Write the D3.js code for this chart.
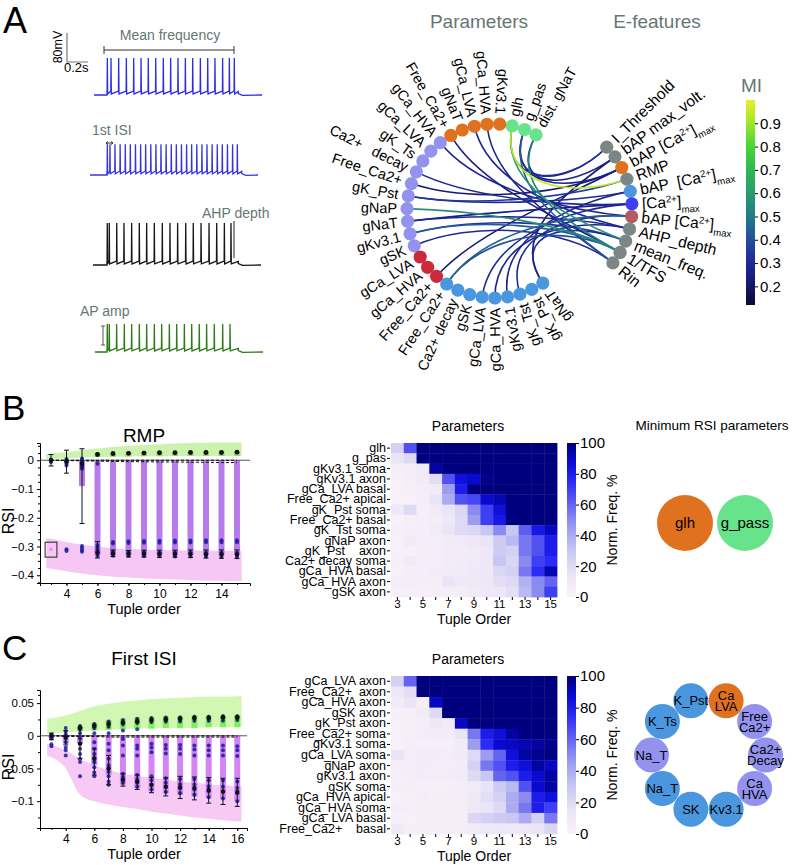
<!DOCTYPE html>
<meta charset="utf-8">
<script src="https://cdn.jsdelivr.net/npm/d3@7"></script>
<style>
  body { margin: 0; background: #fff; }
  text { font-family: "Liberation Sans", Arial, Helvetica, sans-serif; }
</style>
<div id="fig"></div>
<script>

// ---------------- data ----------------

// panel A : spike times (ms) of the four example voltage traces
var spikesMeanFreq = [127,162,235,308,378,448,517,588,660,730,800,870,940,1013,1083,1152,1225,1289,1336]
var spikesFirstISI = [165,190,238,287,336,384,433,482,530,579,628,676,725,774,822,871,920,968,1017,1066,1114,1163,1212,1260,1309,1358,1403]
var spikesAHP = [136,155,226,295,368,441,511,584,660,733,806,883,955,1029,1105,1178,1251,1314]
var spikesAPamp = [117,136,206,279,349,422,492,565,635,708,778,851,921,993,1063,1136,1216,1286]
var stimOn = [124, 162, 133, 114]
var stimOff = [1374, 1445, 1384, 1365]
var spikePeak = [22, 5, 36, -3]

// panel A : parameters (counter-clockwise from the top right) and e-features
var paramNames = ["dist. gNaT","g_pas","glh",
  "gKv3.1","gCa_HVA","gCa_LVA","gNaT","Free_Ca2+",
  "gCa_HVA","gCa_LVA","gK_Ts","Ca2+   decay","Free_Ca2+","gK_Pst","gNaP","gNaT","gKv3.1","gSK",
  "gCa_LVA","gCa_HVA","Free_Ca2+",
  "Free_Ca2+","Ca2+ decay","gSK","gCa_LVA","gCa_HVA","gKv3.1","gK_Tst","gK_Pst","gNaT"]
var paramGroup = ["global","global","global",
  "basal","basal","basal","basal","basal",
  "soma","soma","soma","soma","soma","soma","soma","soma","soma","soma",
  "apical","apical","apical",
  "axon","axon","axon","axon","axon","axon","axon","axon","axon"]
var featNames = ["I_Threshold","bAP max_volt.","bAP [Ca^{2+}]_{max}","RMP","bAP  [Ca^{2+}]_{max}",
  "[Ca^{2+}]_{max}","bAP [Ca^{2+}]_{max}","AHP_depth","mean_freq.","1/TFS","Rin"]
var featGroup = ["feat","feat","basal","feat","axon","ca","dend","feat","feat","feat","feat"]
// [parameter index, e-feature index, mutual information]
var miLinks = [
  [2,3,0.95],[2,8,0.58],[2,0,0.32],[1,0,0.3],[1,10,0.42],[1,2,0.28],[0,1,0.26],[0,9,0.52],
  [5,7,0.3],[7,9,0.24],[8,6,0.28],[11,5,0.3],[12,2,0.22],[13,4,0.3],[14,9,0.56],[15,5,0.25],
  [15,7,0.3],[16,8,0.33],[16,9,0.43],[17,10,0.3],[20,2,0.22],[21,6,0.44],[21,9,0.4],[24,5,0.3],
  [25,7,0.28],[26,4,0.26],[27,6,0.3],[29,1,0.22],[29,8,0.3],[13,3,0.34],[4,10,0.28]]
var miTicks = [0.2,0.3,0.4,0.5,0.6,0.7,0.8,0.9]

// panel B : RSI of RMP vs tuple order
var rmpOrders = [3,4,5,6,7,8,9,10,11,12,13,14,15]
var rmpGreenTop = [0.022,0.029,0.035,0.041,0.046,0.05,0.053,0.056,0.058,0.06,0.061,0.062,0.062]
var rmpGreenBot = [0.004,0.007,0.009,0.011,0.012,0.013,0.014,0.014,0.015,0.015,0.015,0.015,0.015]
var rmpPinkTop = [-0.27,-0.284,-0.294,-0.301,-0.306,-0.309,-0.311,-0.312,-0.313,-0.314,-0.314,-0.315,-0.315]
var rmpPinkBot = [-0.375,-0.386,-0.394,-0.4,-0.405,-0.408,-0.411,-0.413,-0.415,-0.417,-0.418,-0.419,-0.42]
var rmpBarLow = [null,null,-0.09,-0.33,-0.33,-0.33,-0.33,-0.33,-0.33,-0.33,-0.33,-0.33,-0.33]
var rmpGreenBarHigh = [null,null,null,0.024,0.026,0.028,0.029,0.03,0.03,0.03,0.03,0.031,0.031]
var rmpPoints = [
  [0.003,0,-0.003,-0.006],
  [0.004,0,-0.004,-0.008,-0.012,-0.018,-0.31,-0.316],
  [0.006,0.002,-0.002,-0.006,-0.01,-0.014,-0.018,-0.022,-0.026,-0.03,-0.298,-0.305,-0.312,-0.318],
  [0.022,-0.012,-0.295,-0.302,-0.31,-0.318,-0.326,-0.333],
  [0.025,-0.284,-0.29,-0.318,-0.325,-0.332],
  [0.025,-0.282,-0.288,-0.319,-0.326,-0.333],
  [0.026,-0.281,-0.287,-0.319,-0.326,-0.334],
  [0.026,-0.28,-0.287,-0.32,-0.327,-0.334],
  [0.026,-0.279,-0.286,-0.32,-0.327,-0.335],
  [0.027,-0.279,-0.286,-0.32,-0.328,-0.335],
  [0.027,-0.278,-0.285,-0.321,-0.328,-0.336],
  [0.027,-0.278,-0.285,-0.321,-0.329,-0.336],
  [0.028,-0.278,-0.285,-0.322,-0.329,-0.337]]
var rmpErrLo = [-0.02,-0.045,-0.22,-0.34,-0.335,-0.336,-0.336,-0.338,-0.337,-0.338,-0.34,-0.341,-0.342]
var rmpErrHi = [0.02,0.035,0.04,-0.283,-0.312,-0.314,-0.313,-0.313,-0.313,-0.312,-0.312,-0.312,-0.312]
var rmpMean = [0,-0.004,-0.012,-0.32,-0.324,-0.325,-0.325,-0.326,-0.326,-0.326,-0.327,-0.327,-0.328]
var rmpHiMean = [null,null,null,0.02,0.023,0.024,0.025,0.026,0.026,0.027,0.027,0.027,0.028]
var rmpDashA = [0,0,0,0,0,0,0,0,0,0,0,0,0]
var rmpDashB = [0,-0.001,-0.002,-0.003,-0.004,-0.005,-0.005,-0.006,-0.006,-0.007,-0.007,-0.008,-0.008]
var rmpBox = [3, -0.337, -0.285]      // order, low, high of the highlighted point
var rmpOutlier = [3, -0.31]

// panel C : RSI of first ISI vs tuple order
var isiOrders = [3,4,5,6,7,8,9,10,11,12,13,14,15,16]
var isiGreenTop = [0.026,0.031,0.038,0.045,0.049,0.052,0.054,0.056,0.057,0.058,0.059,0.06,0.06,0.061]
var isiGreenBot = [0.003,0.005,0.007,0.008,0.009,0.01,0.011,0.011,0.012,0.012,0.012,0.013,0.013,0.013]
var isiPinkTop = [-0.012,-0.022,-0.035,-0.045,-0.052,-0.058,-0.061,-0.064,-0.067,-0.07,-0.072,-0.074,-0.076,-0.077]
var isiPinkBot = [-0.03,-0.05,-0.09,-0.1,-0.105,-0.109,-0.112,-0.116,-0.119,-0.122,-0.125,-0.127,-0.129,-0.131]
var isiBarLow = [-0.004,-0.012,-0.012,-0.045,-0.06,-0.075,-0.08,-0.085,-0.088,-0.09,-0.093,-0.095,-0.097,-0.1]
var isiGreenBarHigh = [null,null,0.015,0.02,0.024,0.026,0.028,0.029,0.03,0.03,0.031,0.031,0.031,0.032]
var isiPoints = [
  [0.002,0,-0.002,-0.004,-0.013,-0.016],
  [0.012,0.006,0.002,-0.004,-0.01,-0.018,-0.022,-0.03],
  [0.015,0.01,0.004,-0.004,-0.012,-0.02,-0.028,-0.035,-0.04,-0.062],
  [0.018,0.012,0.004,-0.01,-0.02,-0.028,-0.034,-0.04,-0.048,-0.056,-0.062],
  [0.022,0.014,0.004,-0.012,-0.022,-0.035,-0.045,-0.055,-0.062,-0.07,-0.075],
  [0.024,0.018,0.008,-0.005,-0.015,-0.03,-0.058,-0.063,-0.068,-0.072],
  [0.026,0.02,0.01,-0.015,-0.02,-0.03,-0.06,-0.066,-0.072,-0.078],
  [0.027,0.021,-0.012,-0.018,-0.025,-0.062,-0.068,-0.075,-0.082],
  [0.028,0.022,-0.014,-0.02,-0.027,-0.065,-0.072,-0.078,-0.086],
  [0.028,0.022,-0.014,-0.02,-0.028,-0.066,-0.074,-0.08,-0.088],
  [0.029,0.023,-0.015,-0.021,-0.03,-0.066,-0.075,-0.082,-0.09],
  [0.029,0.023,-0.015,-0.022,-0.03,-0.068,-0.077,-0.085,-0.094],
  [0.03,0.023,-0.015,-0.022,-0.03,-0.068,-0.078,-0.086,-0.096],
  [0.03,0.024,-0.016,-0.022,-0.031,-0.07,-0.08,-0.088,-0.1]]
var isiErrLo = [-0.006,-0.014,-0.035,-0.06,-0.075,-0.077,-0.082,-0.087,-0.092,-0.096,-0.098,-0.103,-0.105,-0.108]
var isiErrHi = [0.004,0.008,0.012,-0.02,-0.03,-0.058,-0.06,-0.064,-0.064,-0.062,-0.063,-0.064,-0.065,-0.065]
var isiMean = [0,-0.002,-0.012,-0.035,-0.05,-0.067,-0.07,-0.075,-0.078,-0.079,-0.08,-0.083,-0.085,-0.086]
var isiHiMean = [null,null,0.012,0.015,0.018,0.02,0.022,0.024,0.025,0.026,0.027,0.027,0.028,0.028]
var isiDashA = [0,0,0,0,0,0,0,0,0,0,0,0,0,0]
var isiDashB = [0,-0.001,-0.001,-0.001,-0.002,-0.002,-0.002,-0.002,-0.002,-0.002,-0.002,-0.002,-0.002,-0.002]

// heatmaps : normalised frequency (%) of each parameter per tuple order
var heatOrders = [3,4,5,6,7,8,9,10,11,12,13,14,15]
var heatTicks = [0,20,40,60,80,100]
var rmpRows = ["glh","g_pas","gKv3.1 soma","gKv3.1 axon","gCa_LVA basal","Free_Ca2+ apical","gK_Pst soma",
  "Free_Ca2+ basal","gK_Tst soma","gNaP axon","gK_Pst    axon","Ca2+ decay soma","gCa_HVA basal","gCa_HVA axon","gSK axon"]
var rmpFreq = [
  [25,65,100,100,100,100,100,100,100,100,100,100,100],
  [15,20,100,100,100,100,100,100,100,100,100,100,100],
  [5,5,8,95,100,100,100,100,100,100,100,100,100],
  [3,5,8,18,65,85,88,98,100,100,100,100,100],
  [3,4,6,8,45,80,100,100,100,100,100,100,100],
  [3,3,5,15,40,65,68,88,92,100,100,100,100],
  [10,20,5,8,15,22,50,70,85,100,100,100,100],
  [2,4,5,6,10,20,45,70,82,100,100,100,100],
  [4,5,5,8,15,20,22,30,50,30,62,82,90],
  [3,8,6,6,8,8,12,15,28,35,55,65,80],
  [3,3,5,6,7,7,8,12,28,25,55,65,80],
  [4,8,5,5,7,8,9,12,30,22,50,70,75],
  [3,5,5,7,8,8,10,12,22,25,55,75,92],
  [6,6,5,5,14,10,10,12,18,20,38,50,60],
  [4,4,4,5,5,6,8,10,12,18,35,50,70]]
var isiRows = ["gCa_LVA axon","Free_Ca2+  axon","gCa_HVA axon","gSK axon","gK_Pst axon","Free_Ca2+ soma",
  "gKv3.1 soma","gCa_LVA soma","gNaP axon","gKv3.1 axon","gSK soma","gCa_HVA apical","gCa_HVA soma",
  "gCa_LVA basal","Free_Ca2+    basal"]
var isiFreq = [
  [25,60,100,100,100,100,100,100,100,100,100,100,100],
  [12,18,100,100,100,100,100,100,100,100,100,100,100],
  [8,15,5,90,100,100,100,100,100,100,100,100,100],
  [4,5,8,20,100,100,100,100,100,100,100,100,100],
  [3,4,6,12,8,90,100,100,100,100,100,100,100],
  [3,4,6,7,6,15,55,80,85,95,100,100,100],
  [3,5,4,4,5,8,45,75,88,90,92,95,98],
  [15,6,7,7,6,8,20,45,60,85,95,98,100],
  [5,6,7,6,6,7,25,55,65,80,85,95,90],
  [4,5,6,6,6,8,20,30,60,65,80,88,95],
  [5,5,4,4,5,6,8,15,28,35,65,88,95],
  [3,4,6,5,5,6,10,18,25,40,50,80,85],
  [5,4,5,5,5,6,12,15,20,40,55,80,70],
  [3,3,5,5,5,6,22,25,28,30,40,25,55],
  [10,5,5,5,5,6,8,10,12,10,12,14,22]]

// minimum RSI parameter sets
var minRmpNames = ["glh","g_pass"]
var minRmpGroup = ["basal","global"]
var minIsiNames = ["K_Pst","Ca\nLVA","Free\nCa2+","Ca2+\nDecay","Ca\nHVA","Kv3.1","SK","Na_T","Na_T","K_Ts"]
var minIsiGroup = ["axon","basal","soma","soma","soma","axon","axon","axon","soma","axon"]

// ---------------- drawing ----------------

var svg = d3.select("#fig").append("svg").attr("width", 793).attr("height", 865)
svg.append("rect").attr("width", 793).attr("height", 865).attr("fill", "#fff")

var GREY = "#667675"
var groupColor = {global: "#67e38c", basal: "#e0721f", soma: "#9393ef", apical: "#cc2a3c",
  axon: "#4b97df", feat: "#7b8786", ca: "#3f3ff2", dend: "#b35a63"}

// panel letters
svg.append("text").text("A").attr("x", 3).attr("y", 33).attr("font-size", 36)
svg.append("text").text("B").attr("x", 2).attr("y", 420).attr("font-size", 35)
svg.append("text").text("C").attr("x", 2).attr("y", 660).attr("font-size", 35)

// ---- panel A traces ----
function tracePoints(spk, on, off, peak) {
  var pts = [[0, -80], [on, -80], [on, -72]]
  spk.forEach(function (t) {
    pts.push([t - 2, -69], [t, peak], [t + 3, -77])
  })
  pts.push([off, -70], [off, -76], [off + 40, -81], [1600, -80])
  return pts
}

var traceSpikes = [spikesMeanFreq, spikesFirstISI, spikesAHP, spikesAPamp]
var traceColor = ["#2c2ce3", "#3434e0", "#151515", "#2d7a17"]
var traceX0 = [94, 90, 93, 95], traceBase = [95, 175, 265, 352]
var tx = [], ty = []
traceSpikes.forEach(function (spk, i) {
  tx[i] = d3.scaleLinear().domain([0, 1600]).range([traceX0[i], traceX0[i] + 168])
  ty[i] = d3.scaleLinear().domain([-80, 20]).range([traceBase[i], traceBase[i] - 36.25])
  svg.append("path")
    .datum(tracePoints(spk, stimOn[i], stimOff[i], spikePeak[i]))
    .attr("d", d3.line().x(function (d) { return tx[i](d[0]) }).y(function (d) { return ty[i](d[1]) }))
    .attr("fill", "none").attr("stroke", traceColor[i]).attr("stroke-width", 1.3)
})

// scale bar
svg.append("path").attr("d", "M67,33V62H88").attr("fill", "none").attr("stroke", "#777").attr("stroke-width", 1.2)
svg.append("text").text("80mV").attr("transform", "translate(62,47) rotate(-90)")
  .attr("text-anchor", "middle").attr("font-size", 12.5)
svg.append("text").text("0.2s").attr("x", 64).attr("y", 72).attr("font-size", 13)

// annotations
var ann = svg.append("g").attr("fill", GREY).attr("font-size", 14)
ann.append("text").text("Mean frequency").attr("x", 170).attr("y", 40).attr("text-anchor", "middle")
ann.append("path").attr("d", "M104,46V54M104,50H234M234,46V54").attr("stroke", "#333").attr("fill", "none")
ann.append("text").text("1st ISI").attr("x", 92).attr("y", 135)
ann.append("path").attr("d", "M106,143H113M106,143l2,-1.5M106,143l2,1.5M113,143l-2,-1.5M113,143l-2,1.5")
  .attr("stroke", "#333").attr("fill", "none")
ann.append("text").text("AHP depth").attr("x", 202).attr("y", 218)
ann.append("path").attr("d", "M234,221V258").attr("stroke", "#222").attr("fill", "none")
ann.append("text").text("AP amp").attr("x", 80).attr("y", 316)
ann.append("path").attr("d", "M101,326H105M103,326V345M101,345H105").attr("stroke", "#555").attr("fill", "none")

// ---- panel A circle ----
svg.append("text").text("Parameters").attr("x", 479).attr("y", 28).attr("text-anchor", "middle")
  .attr("font-size", 19).attr("fill", GREY)
svg.append("text").text("E-features").attr("x", 657).attr("y", 28).attr("text-anchor", "middle")
  .attr("font-size", 19).attr("fill", GREY)

var pc = {x: 494, y: 211}, fc = {x: 545, y: 208.5}, R = 87
var pAngle = d3.scaleLinear().domain([0, paramNames.length - 1]).range([28.9, -214.1])
var fAngle = d3.scaleLinear().domain([0, featNames.length - 1]).range([45.2, 128.7])
function polar(c, deg, r) {
  var a = deg * Math.PI / 180
  return [c.x + r * Math.sin(a), c.y - r * Math.cos(a)]
}

var miStops = [0.12, 0.2, 0.3, 0.4, 0.5, 0.6, 0.7, 0.8, 0.9, 1.0]
var miCols = ["#0c0b2c", "#15166a", "#1f2896", "#22509a", "#237a88", "#2a9a70", "#30b850", "#48d438", "#9ee628", "#e6f02a"]
var miColor = d3.scaleLinear().domain(miStops).range(miCols)

var linkG = svg.append("g").attr("fill", "none").attr("stroke-width", 1.6)
miLinks.slice().sort(function (a, b) { return a[2] - b[2] }).forEach(function (l) {
  var p1 = polar(pc, pAngle(l[0]), R), p2 = polar(fc, fAngle(l[1]), R)
  var c1 = polar(pc, pAngle(l[0]), R * 0.3), c2 = polar(fc, fAngle(l[1]), R * 0.3)
  linkG.append("path")
    .attr("d", "M" + p1 + "C" + c1 + " " + c2 + " " + p2)
    .attr("stroke", miColor(l[2]))
})

function rich(t, str) {
  str.split(/(\^\{[^}]*\}|_\{[^}]*\})/).forEach(function (p) {
    if (!p) return
    if (p.slice(0, 2) == "^{") t.append("tspan").attr("font-size", "62%").attr("baseline-shift", "super").text(p.slice(2, -1))
    else if (p.slice(0, 2) == "_{") t.append("tspan").attr("font-size", "62%").attr("baseline-shift", "sub").text(p.slice(2, -1))
    else t.append("tspan").text(p)
  })
}

function nodeLabel(c, deg, txt, size) {
  var p = polar(c, deg, R + 10)
  var a = ((deg % 360) + 360) % 360
  var right = a > 8 && a < 140
  var t = svg.append("text")
    .attr("transform", "translate(" + p + ") rotate(" + (right ? deg - 90 : deg + 90) + ")")
    .attr("text-anchor", right ? "start" : "end")
    .attr("dy", "0.35em").attr("font-size", size).style("white-space", "pre")
  rich(t, txt)
}

paramNames.forEach(function (n, i) {
  var p = polar(pc, pAngle(i), R)
  svg.append("circle").attr("cx", p[0]).attr("cy", p[1]).attr("r", 6.6).attr("fill", groupColor[paramGroup[i]])
  nodeLabel(pc, pAngle(i), n, 14.5)
})
featNames.forEach(function (n, i) {
  var p = polar(fc, fAngle(i), R)
  svg.append("circle").attr("cx", p[0]).attr("cy", p[1]).attr("r", 6.6).attr("fill", groupColor[featGroup[i]])
  nodeLabel(fc, fAngle(i), n, 15.5)
})

// MI colorbar
var defs = svg.append("defs")
var miGrad = defs.append("linearGradient").attr("id", "miGrad").attr("x1", 0).attr("y1", 1).attr("x2", 0).attr("y2", 0)
miStops.forEach(function (s, i) {
  miGrad.append("stop").attr("offset", (s - 0.12) / 0.88).attr("stop-color", miCols[i])
})
var miY = d3.scaleLinear().domain([0.12, 1.0]).range([305, 100])
svg.append("rect").attr("x", 746).attr("y", 100).attr("width", 9).attr("height", 205).attr("fill", "url(#miGrad)")
var miAxis = svg.append("g").attr("transform", "translate(755,0)")
  .call(d3.axisRight(miY).tickValues(miTicks).tickSize(3).tickPadding(2))
miAxis.select(".domain").remove()
miAxis.attr("font-size", 15)
svg.append("text").text("MI").attr("x", 741).attr("y", 92).attr("font-size", 19).attr("fill", GREY)

// ---- RSI plots ----
function rsiPlot(o) {
  var x = d3.scaleLinear().domain(o.xDom).range(o.xRange)
  var y = d3.scaleLinear().domain(o.yDom).range(o.yRange)
  var g = svg.append("g")
  var n = o.orders.length
  function bx(i) { return x(o.orders[i] + (i == 0 ? -0.3 : i == n - 1 ? 0.3 : 0)) }
  var band = function (top, bot) {
    return d3.area().x(function (d, i) { return bx(i) })
      .y0(function (d, i) { return y(bot[i]) }).y1(function (d, i) { return y(top[i]) })
      .curve(d3.curveMonotoneX)(o.orders)
  }
  g.append("path").attr("d", band(o.greenTop, o.greenBot)).attr("fill", o.greenBand)
  g.append("path").attr("d", band(o.pinkTop, o.pinkBot)).attr("fill", o.pinkBand)

  o.orders.forEach(function (k, i) {
    if (o.barLow[i] != null)
      g.append("rect").attr("x", x(k) - 3).attr("width", 6)
        .attr("y", y(0)).attr("height", y(o.barLow[i]) - y(0)).attr("fill", o.barColor)
    if (o.greenBarHigh[i] != null)
      g.append("rect").attr("x", x(k) - 3).attr("width", 6)
        .attr("y", y(o.greenBarHigh[i])).attr("height", y(o.greenBot[i]) - y(o.greenBarHigh[i]))
        .attr("fill", o.greenBar)
  })

  g.append("line").attr("x1", o.xRange[0]).attr("x2", o.xRange[1]).attr("y1", y(0)).attr("y2", y(0))
    .attr("stroke", "#555").attr("stroke-width", 1)
  ;[o.dashA, o.dashB].forEach(function (arr) {
    g.append("path").datum(arr)
      .attr("d", d3.line().x(function (d, i) { return x(o.orders[i]) }).y(function (d) { return y(d) }))
      .attr("fill", "none").attr("stroke", "#111").attr("stroke-width", 1).attr("stroke-dasharray", "3,2")
  })

  o.points.forEach(function (vals, i) {
    g.selectAll(null).data(vals).enter().append("circle")
      .attr("cx", x(o.orders[i])).attr("cy", function (d) { return y(d) })
      .attr("r", 2).attr("fill", "#1d1aa0").attr("opacity", 0.85)
  })

  var eb = g.append("g").attr("stroke", "#111").attr("stroke-width", 1)
  o.orders.forEach(function (k, i) {
    var cx = x(k)
    eb.append("path").attr("d", "M" + cx + "," + y(o.errLo[i]) + "V" + y(o.errHi[i]) +
      "M" + (cx - 2.5) + "," + y(o.errLo[i]) + "h5M" + (cx - 2.5) + "," + y(o.errHi[i]) + "h5")
    g.append("circle").attr("cx", cx).attr("cy", y(o.mean[i])).attr("r", 2.2).attr("fill", "#111")
    if (o.hiMean[i] != null) {
      eb.append("path").attr("d", "M" + cx + "," + y(o.hiMean[i] - 0.006) + "V" + y(o.hiMean[i] + 0.005))
      g.append("circle").attr("cx", cx).attr("cy", y(o.hiMean[i])).attr("r", 2.4).attr("fill", "#111")
    }
  })

  if (o.box) {
    g.append("rect").attr("x", x(o.box[0] - 0.38)).attr("y", y(o.box[2]))
      .attr("width", x(o.box[0] + 0.38) - x(o.box[0] - 0.38)).attr("height", y(o.box[1]) - y(o.box[2]))
      .attr("fill", "none").attr("stroke", "#222").attr("stroke-width", 1)
    g.append("circle").attr("cx", x(o.outlier[0])).attr("cy", y(o.outlier[1])).attr("r", 1.8).attr("fill", "#f08ef0")
  }

  // axes
  var ya = g.append("g").attr("transform", "translate(" + o.xRange[0] + ",0)")
    .call(d3.axisLeft(y).tickValues(o.yTicks).tickFormat(o.yFmt).tickSize(3).tickPadding(3))
  ya.attr("font-size", 11.5)
  ya.append("g").call(d3.axisLeft(y).tickValues(o.yMinor).tickFormat("").tickSize(2))
    .select(".domain").remove()
  var xa = g.append("g").attr("transform", "translate(0," + o.yRange[0] + ")")
    .call(d3.axisBottom(x).tickValues(o.xTicks).tickFormat(d3.format("d")).tickSize(3).tickPadding(3))
  xa.attr("font-size", 12)
  xa.append("g").call(d3.axisBottom(x).tickValues(o.orders).tickFormat("").tickSize(2))
    .select(".domain").remove()

  svg.append("text").text(o.title).attr("x", 144).attr("y", o.titleY).attr("text-anchor", "middle").attr("font-size", 19)
  svg.append("text").text("Tuple order").attr("x", 144).attr("y", o.yRange[0] + 31).attr("text-anchor", "middle").attr("font-size", 14.5)
  svg.append("text").text("RSI").attr("transform", "translate(14," + ((o.yRange[0] + o.yRange[1]) / 2 + 8) + ") rotate(-90)")
    .attr("text-anchor", "middle").attr("font-size", 16)
}

rsiPlot({
  orders: rmpOrders, greenTop: rmpGreenTop, greenBot: rmpGreenBot, pinkTop: rmpPinkTop, pinkBot: rmpPinkBot,
  barLow: rmpBarLow, greenBarHigh: rmpGreenBarHigh, points: rmpPoints, errLo: rmpErrLo, errHi: rmpErrHi,
  mean: rmpMean, hiMean: rmpHiMean, dashA: rmpDashA, dashB: rmpDashB, box: rmpBox, outlier: rmpOutlier,
  xDom: [2.29, 15.84], xRange: [40, 250], yDom: [-0.427, 0.06], yRange: [583, 443],
  yTicks: [-0.4, -0.3, -0.2, -0.1, 0], yFmt: function (d) { return d == 0 ? "0" : d3.format(".1f")(d) },
  yMinor: [-0.425, -0.375, -0.35, -0.325, -0.275, -0.25, -0.225, -0.175, -0.15, -0.125, -0.075, -0.05, -0.025, 0.025, 0.05],
  xTicks: [4, 6, 8, 10, 12, 14],
  greenBand: "#cdf2ad", pinkBand: "#f6c6f4", barColor: "#b97bec", greenBar: "#86e06a",
  title: "RMP", titleY: 442
})

rsiPlot({
  orders: isiOrders, greenTop: isiGreenTop, greenBot: isiGreenBot, pinkTop: isiPinkTop, pinkBot: isiPinkBot,
  barLow: isiBarLow, greenBarHigh: isiGreenBarHigh, points: isiPoints, errLo: isiErrLo, errHi: isiErrHi,
  mean: isiMean, hiMean: isiHiMean, dashA: isiDashA, dashB: isiDashB,
  xDom: [2.2, 16.68], xRange: [40, 247], yDom: [-0.141, 0.07], yRange: [828, 690],
  yTicks: [-0.1, -0.05, 0, 0.05], yFmt: function (d) { return d == 0 ? "0" : d3.format("")(+d.toFixed(2)) },
  yMinor: [-0.125, -0.075, -0.025, 0.025, 0.0625],
  xTicks: [4, 6, 8, 10, 12, 14, 16],
  greenBand: "#d2f7b3", pinkBand: "#f7c9f5", barColor: "#d584f4", greenBar: "#7cf05a",
  title: "First ISI", titleY: 665
})

// ---- heatmaps ----
var heatColor = d3.scaleLinear()
  .domain([0, 15, 30, 45, 60, 75, 87, 100])
  .range(["#fbf3fa", "#e9e4f6", "#c9c7f2", "#9d9df0", "#6464f0", "#2b2bf3", "#0a0ad6", "#00007e"])

var hGrad = defs.append("linearGradient").attr("id", "hGrad").attr("x1", 0).attr("y1", 1).attr("x2", 0).attr("y2", 0)
heatColor.domain().forEach(function (v) {
  hGrad.append("stop").attr("offset", v / 100).attr("stop-color", heatColor(v))
})

function heatmap(top, bottom, rows, vals) {
  var x = d3.scaleBand().domain(heatOrders).range([391, 557])
  var y = d3.scaleBand().domain(d3.range(rows.length)).range([top, bottom])
  var g = svg.append("g")
  vals.forEach(function (row, i) {
    g.selectAll(null).data(row).enter().append("rect")
      .attr("x", function (d, j) { return x(heatOrders[j]) })
      .attr("y", y(i)).attr("width", x.bandwidth() + 0.4).attr("height", y.bandwidth() + 0.4)
      .attr("fill", function (d) { return heatColor(d) })
  })
  var ya = g.append("g").attr("transform", "translate(390,0)")
    .call(d3.axisLeft(y).tickSize(3).tickPadding(1).tickFormat(function (i) { return rows[i] }))
  ya.select(".domain").remove()
  ya.attr("font-size", 12.5).selectAll("text").style("white-space", "pre")
  var xa = g.append("g").attr("transform", "translate(0," + bottom + ")")
    .call(d3.axisBottom(x).tickSize(3).tickPadding(0).tickFormat(function (d) { return d % 2 ? d : "" }))
  xa.select(".domain").remove()
  xa.attr("font-size", 11.5)

  var cy = d3.scaleLinear().domain([0, 100]).range([bottom, top])
  g.append("rect").attr("x", 567).attr("y", top).attr("width", 9).attr("height", bottom - top).attr("fill", "url(#hGrad)")
  var ca = g.append("g").attr("transform", "translate(576,0)")
    .call(d3.axisRight(cy).tickValues(heatTicks).tickSize(3).tickPadding(1))
  ca.select(".domain").remove()
  ca.attr("font-size", 15)

  svg.append("text").text("Parameters").attr("x", 468).attr("y", top - 12).attr("text-anchor", "middle").attr("font-size", 14)
  svg.append("text").text("Tuple Order").attr("x", 474).attr("y", bottom + 27).attr("text-anchor", "middle").attr("font-size", 14)
  svg.append("text").text("Norm. Freq. %")
    .attr("transform", "translate(617," + (top + bottom) / 2 + ") rotate(-90)")
    .attr("text-anchor", "middle").attr("font-size", 14)
}
heatmap(443, 597, rmpRows, rmpFreq)
heatmap(676, 834, isiRows, isiFreq)

// ---- minimum RSI parameters ----
svg.append("text").text("Minimum RSI parameters").attr("x", 712).attr("y", 430)
  .attr("text-anchor", "middle").attr("font-size", 13.5)
var minX = d3.scalePoint().domain(d3.range(minRmpNames.length)).range([685, 745])
minRmpNames.forEach(function (n, i) {
  svg.append("circle").attr("cx", minX(i)).attr("cy", 523).attr("r", 28).attr("fill", groupColor[minRmpGroup[i]])
  svg.append("text").text(n).attr("x", minX(i)).attr("y", 523).attr("dy", "0.35em")
    .attr("text-anchor", "middle").attr("font-size", 15)
})

var ringAngle = d3.scaleLinear().domain([0, minIsiNames.length]).range([-18, 342])
var ringC = {x: 708.5, y: 755}
minIsiNames.forEach(function (n, i) {
  var p = polar(ringC, ringAngle(i), 57)
  svg.append("circle").attr("cx", p[0]).attr("cy", p[1]).attr("r", 17.5).attr("fill", groupColor[minIsiGroup[i]])
  var lines = n.split("\n")
  var t = svg.append("text").attr("text-anchor", "middle").attr("font-size", 13)
  lines.forEach(function (s, j) {
    t.append("tspan").attr("x", p[0]).attr("y", p[1] + (j - (lines.length - 1) / 2) * 11).attr("dy", "0.35em").text(s)
  })
})

</script>
